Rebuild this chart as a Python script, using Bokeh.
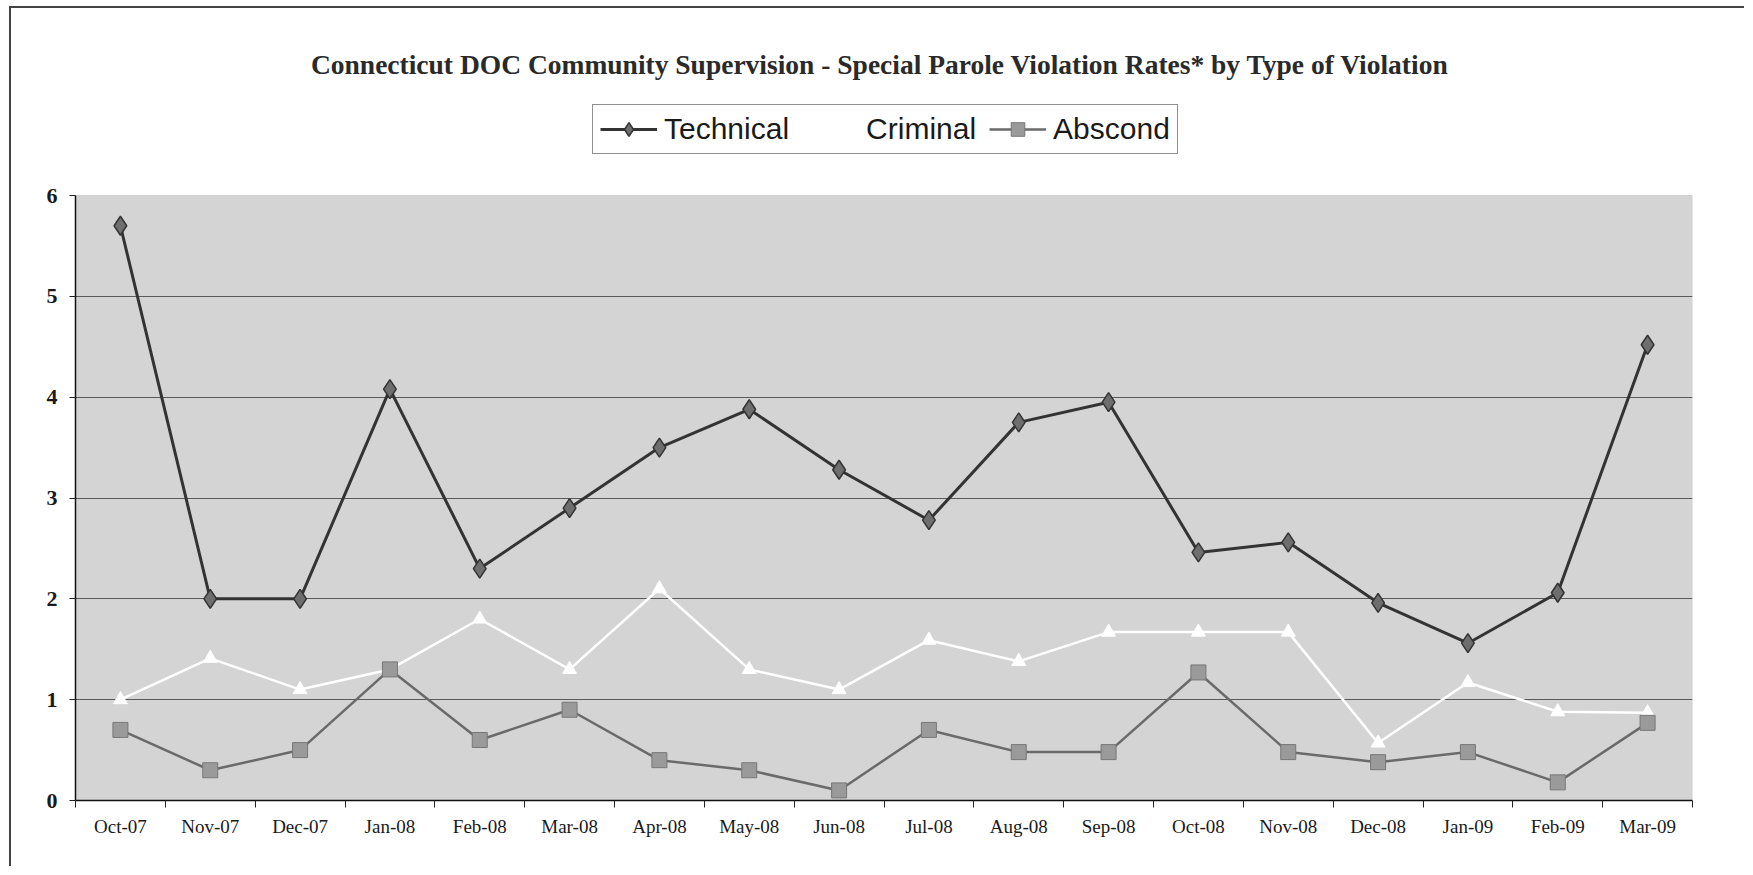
from bokeh.plotting import figure
from bokeh.models import (Range1d, FixedTicker, Legend, LegendItem, Label, BoxAnnotation,
                          ColumnDataSource)
from bokeh.embed import file_html
from bokeh.resources import INLINE

months = ["Oct-07", "Nov-07", "Dec-07", "Jan-08", "Feb-08", "Mar-08", "Apr-08", "May-08", "Jun-08",
          "Jul-08", "Aug-08", "Sep-08", "Oct-08", "Nov-08", "Dec-08", "Jan-09", "Feb-09", "Mar-09"]
technical = [5.70, 2.00, 2.00, 4.08, 2.30, 2.90, 3.50, 3.88, 3.28, 2.78, 3.75, 3.95,
             2.46, 2.56, 1.96, 1.56, 2.06, 4.52]
criminal = [1.00, 1.41, 1.10, 1.30, 1.80, 1.30, 2.10, 1.30, 1.10, 1.59, 1.38, 1.67,
            1.67, 1.67, 0.57, 1.17, 0.88, 0.87]
abscond = [0.70, 0.30, 0.50, 1.30, 0.60, 0.90, 0.40, 0.30, 0.10, 0.70, 0.48, 0.48,
           1.27, 0.48, 0.38, 0.48, 0.18, 0.77]
y_ticks = [0, 1, 2, 3, 4, 5, 6]
y_max = 6
title_text = "Connecticut DOC Community Supervision -  Special Parole Violation Rates* by Type of Violation"

xs = [i + 0.5 for i in range(len(months))]
src = ColumnDataSource(dict(x=xs, tech=technical, crim=criminal, absc=abscond))

W, H = 1735, 860
B_LEFT, B_RIGHT, B_TOP, B_BOTTOM = 64, 54, 7, 68
frame_h = H - B_TOP - B_BOTTOM
plot_area_h = 605  # pixel height of the 0..6 plot area
y_top = y_max * frame_h / plot_area_h

p = figure(width=W, height=H, output_backend="svg", toolbar_location=None, title=None,
           x_range=Range1d(0, len(months)), y_range=Range1d(0, y_top),
           min_border_left=B_LEFT, min_border_right=B_RIGHT,
           min_border_top=B_TOP, min_border_bottom=B_BOTTOM)
p.background_fill_color = "white"
p.border_fill_color = "white"
p.outline_line_color = None
p.styles = {"border-left": "2px solid #444", "border-top": "2px solid #444",
            "margin-left": "9px", "margin-top": "6px"}

# gray plot area (0..6)
area = BoxAnnotation(left=0, right=len(months), bottom=0, top=y_max,
                     fill_color="#d4d4d4", fill_alpha=1.0,
                     line_color="#9a9a9a", line_width=1, level="image")
p.add_layout(area)

# grid
p.xgrid.visible = False
p.ygrid.ticker = FixedTicker(ticks=[1, 2, 3, 4, 5])
p.ygrid.grid_line_color = "#5a5a5a"
p.ygrid.grid_line_width = 1

# x axis
p.xaxis.ticker = FixedTicker(ticks=xs, minor_ticks=list(range(len(months) + 1)))
p.xaxis.major_label_overrides = {x: m for x, m in zip(xs, months)}
p.xaxis.major_tick_out = 0
p.xaxis.major_tick_in = 0
p.xaxis.minor_tick_out = 7
p.xaxis.minor_tick_in = 0
p.xaxis.minor_tick_line_color = "#222222"
p.xaxis.axis_line_color = "#111111"
p.xaxis.axis_line_width = 1.5
p.xaxis.major_label_text_font = "Liberation Serif"
p.xaxis.major_label_text_font_size = "19px"
p.xaxis.major_label_text_color = "#1a1a1a"
p.xaxis.major_label_standoff = 8

# y axis
p.yaxis.ticker = FixedTicker(ticks=y_ticks)
p.yaxis.bounds = (0, y_max)
p.yaxis.minor_tick_out = 0
p.yaxis.minor_tick_in = 0
p.yaxis.major_tick_in = 0
p.yaxis.major_tick_out = 6
p.yaxis.major_tick_line_color = "#222222"
p.yaxis.axis_line_color = "#111111"
p.yaxis.axis_line_width = 1.5
p.yaxis.major_label_text_font = "Liberation Serif"
p.yaxis.major_label_text_font_style = "bold"
p.yaxis.major_label_text_font_size = "22px"
p.yaxis.major_label_text_color = "#1a1a1a"
p.yaxis.major_label_standoff = 12

# series
r_crim_l = p.line("x", "crim", source=src, line_color="white", line_width=2.5)
r_crim_m = p.scatter("x", "crim", source=src, marker="triangle", size=14,
                     fill_color="white", line_color="white")
r_abs_l = p.line("x", "absc", source=src, line_color="#6a6a6a", line_width=2.5)
r_abs_m = p.scatter("x", "absc", source=src, marker="square", size=15,
                    fill_color="#9a9a9a", line_color="#777777", line_width=1)
r_tech_l = p.line("x", "tech", source=src, line_color="#333333", line_width=3)
r_tech_m = p.scatter("x", "tech", source=src, marker="diamond", size=19,
                     fill_color="#6e6e6e", line_color="#333333", line_width=1.5)

# legend above the plot area (positions relative to frame bottom-left)
legend = Legend(items=[
    LegendItem(label="Technical", renderers=[r_tech_l, r_tech_m]),
    LegendItem(label="Criminal", renderers=[r_crim_l, r_crim_m]),
    LegendItem(label="Abscond", renderers=[r_abs_l, r_abs_m]),
], orientation="horizontal", location=(517, plot_area_h + 41))
legend.label_text_font = "Liberation Sans"
legend.label_text_font_size = "30px"
legend.label_text_color = "#1a1a1a"
legend.glyph_width = 57
legend.glyph_height = 34
legend.label_standoff = 7
legend.spacing = 13
legend.padding = 7
legend.margin = 0
legend.border_line_color = "#222222"
legend.border_line_width = 1.5
legend.background_fill_color = "white"
legend.background_fill_alpha = 1
p.add_layout(legend, "center")

title = Label(x=808, y=frame_h - 49, x_units="screen", y_units="screen",
              text=title_text, text_font="Liberation Serif", text_font_style="bold",
              text_font_size="27.5px", text_color="#2a2a2a", text_align="center",
              text_baseline="middle")
p.add_layout(title)

open("out.html", "w").write(file_html(p, INLINE))
